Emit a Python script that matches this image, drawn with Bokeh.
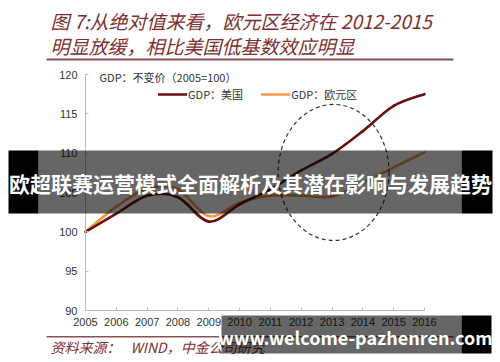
from bokeh.plotting import figure
from bokeh.models import Label, BoxAnnotation, FixedTicker, Legend, LegendItem, ColumnDataSource, Range1d
from bokeh.embed import file_html
from bokeh.resources import INLINE

# ---------------- data ----------------
years = [2005, 2006, 2007, 2008, 2009, 2010, 2011, 2012, 2013, 2014, 2015, 2016]
gdp_us = [100.0, 102.3, 104.6, 104.4, 101.3, 103.5, 105.4, 107.8, 109.9, 112.8, 116.0, 117.5]
gdp_ez = [100.0, 103.2, 105.5, 105.4, 102.0, 103.7, 104.6, 104.6, 104.5, 106.2, 108.2, 110.1]
y_ticks = [90, 95, 100, 105, 110, 115, 120]
series_names = ["GDP：美国", "GDP：欧元区"]
legend_title = "GDP：不变价（2005=100）"
title_line1 = "图 7:从绝对值来看，欧元区经济在 2012-2015"
title_line2 = "明显放缓，相比美国低基数效应明显"
source_label = "资料来源："
source_text = "WIND，中金公司研究"
banner_text = "欧超联赛运营模式全面解析及其潜在影响与发展趋势"
watermark_text = "www.welcome-pazhenren.com"
# highlighted period (dashed ellipse): centre year/value and extent
hl_year, hl_value, hl_span_years, hl_span_values = 2013.05, 107.55, 3.6, 17.3

# ---------------- geometry (canvas pixels of the plot area) ----------------
W, H = 500, 362
X0, X1 = 85, 424      # 2005 .. 2016
Y0, Y1 = 74, 310      # 120 .. 90
def dx(px):
    return 2005 + (px - X0) * (2016 - 2005) / (X1 - X0)
def dy(py):
    return 120 - (py - Y0) * (120 - 90) / (Y1 - Y0)

p = figure(width=W, height=H, x_range=Range1d(dx(0), dx(W)), y_range=Range1d(dy(H), dy(0)),
           output_backend="svg", toolbar_location=None,
           min_border_left=0, min_border_right=0, min_border_top=0, min_border_bottom=0)
p.background_fill_color = "white"
p.border_fill_color = "white"
p.outline_line_color = None
p.xgrid.grid_line_color = None
p.ygrid.grid_line_color = None

p.xaxis.fixed_location = 90
p.yaxis.fixed_location = 2005
p.xaxis.bounds = (2005, 2016)
p.yaxis.bounds = (90, 120)
for ax in (p.xaxis[0], p.yaxis[0]):
    ax.axis_line_color = "#BBBBBB"
    ax.major_tick_line_color = "#BBBBBB"
    ax.major_tick_in = 3
    ax.major_tick_out = 0
    ax.minor_tick_line_color = None
    ax.major_label_text_font = "Liberation Sans"
    ax.major_label_text_font_size = "11px"
    ax.major_label_text_color = "#333333"
p.xaxis.ticker = FixedTicker(ticks=years)
p.yaxis.ticker = FixedTicker(ticks=y_ticks)
p.xaxis.major_label_standoff = 7
p.yaxis.major_label_standoff = 8

# ---------------- smooth series (bezier through data points) ----------------
def bez(xs, ys):
    n = len(xs)
    d = dict(x0=[], y0=[], x1=[], y1=[], cx0=[], cy0=[], cx1=[], cy1=[])
    for i in range(n - 1):
        a = max(i - 1, 0); b = min(i + 2, n - 1)
        d["x0"].append(xs[i]); d["y0"].append(ys[i])
        d["x1"].append(xs[i + 1]); d["y1"].append(ys[i + 1])
        d["cx0"].append(xs[i] + (xs[i + 1] - xs[a]) / 6)
        d["cy0"].append(ys[i] + (ys[i + 1] - ys[a]) / 6)
        d["cx1"].append(xs[i + 1] - (xs[b] - xs[i]) / 6)
        d["cy1"].append(ys[i + 1] - (ys[b] - ys[i]) / 6)
    return ColumnDataSource(d)

r_ez = p.bezier(x0="x0", y0="y0", x1="x1", y1="y1", cx0="cx0", cy0="cy0", cx1="cx1", cy1="cy1",
                source=bez(years, gdp_ez), line_color="#F2994A", line_width=2.6, line_cap="round")
r_us = p.bezier(x0="x0", y0="y0", x1="x1", y1="y1", cx0="cx0", cy0="cy0", cx1="cx1", cy1="cy1",
                source=bez(years, gdp_us), line_color="#6B1010", line_width=2.6, line_cap="round")

p.ellipse(x=[hl_year], y=[hl_value], width=[hl_span_years], height=[hl_span_values],
          fill_color=None, line_color="#333333", line_width=1.2, line_dash="4 3")

legend = Legend(items=[LegendItem(label=series_names[0], renderers=[r_us]),
                       LegendItem(label=series_names[1], renderers=[r_ez])],
                orientation="horizontal", location=(158, H - 96 - 6), glyph_width=29, glyph_height=12,
                label_height=12, label_standoff=1, spacing=18, padding=0, margin=0,
                border_line_color=None, background_fill_alpha=0,
                label_text_font_size="11px", label_text_font="Noto Sans CJK SC",
                label_text_color="#333333")
p.add_layout(legend)

p.add_layout(Label(x=dx(99), y=dy(76), text=legend_title, text_font="Noto Sans CJK SC",
                   text_font_size="11px", text_color="#333333", text_baseline="middle"))

# ---------------- title / source ----------------
maroon = "#7E2F2F"
for txt, py in ((title_line1, 20), (title_line2, 45)):
    p.add_layout(Label(x=dx(50), y=dy(py), text=txt, text_font="Noto Sans CJK SC",
                       text_font_style="italic", text_font_size="19px", text_color=maroon,
                       text_baseline="middle"))

def box(l, r, t, b, color, alpha):
    p.add_layout(BoxAnnotation(left=dx(l), right=dx(r), top=dy(t), bottom=dy(b),
                               fill_color=color, fill_alpha=alpha, line_color=None))

box(46, 453, 58, 60, "#8B5050", 1.0)
box(46, 453, 335.5, 337, "#8B5050", 1.0)
p.add_layout(Label(x=dx(50), y=dy(346), text=source_label, text_font="Noto Sans CJK SC",
                   text_font_style="italic", text_font_size="14px", text_color=maroon,
                   text_baseline="middle"))
p.add_layout(Label(x=dx(130), y=dy(346), text=source_text, text_font="Noto Sans CJK SC",
                   text_font_style="italic", text_font_size="14px", text_color=maroon,
                   text_baseline="middle"))

# ---------------- overlay banners ----------------
box(8, 38, 150, 213, "black", 1.0)
box(38, 461, 150, 213, "black", 0.6)
box(461, 492, 150, 213, "black", 1.0)
p.add_layout(Label(x=dx(250), y=dy(182), text=banner_text, text_font="Noto Sans CJK SC",
                   text_font_style="bold", text_font_size="21px", text_color="white",
                   text_align="center", text_baseline="middle"))

box(221, 461, 315, 353, "black", 0.6)
box(461, 491, 315, 353, "black", 1.0)
p.add_layout(Label(x=dx(355), y=dy(336), text=watermark_text, text_font="Noto Sans CJK SC",
                   text_font_style="bold", text_font_size="18px", text_color="white",
                   text_align="center", text_baseline="middle"))

open("out.html", "w").write(file_html(p, INLINE))
